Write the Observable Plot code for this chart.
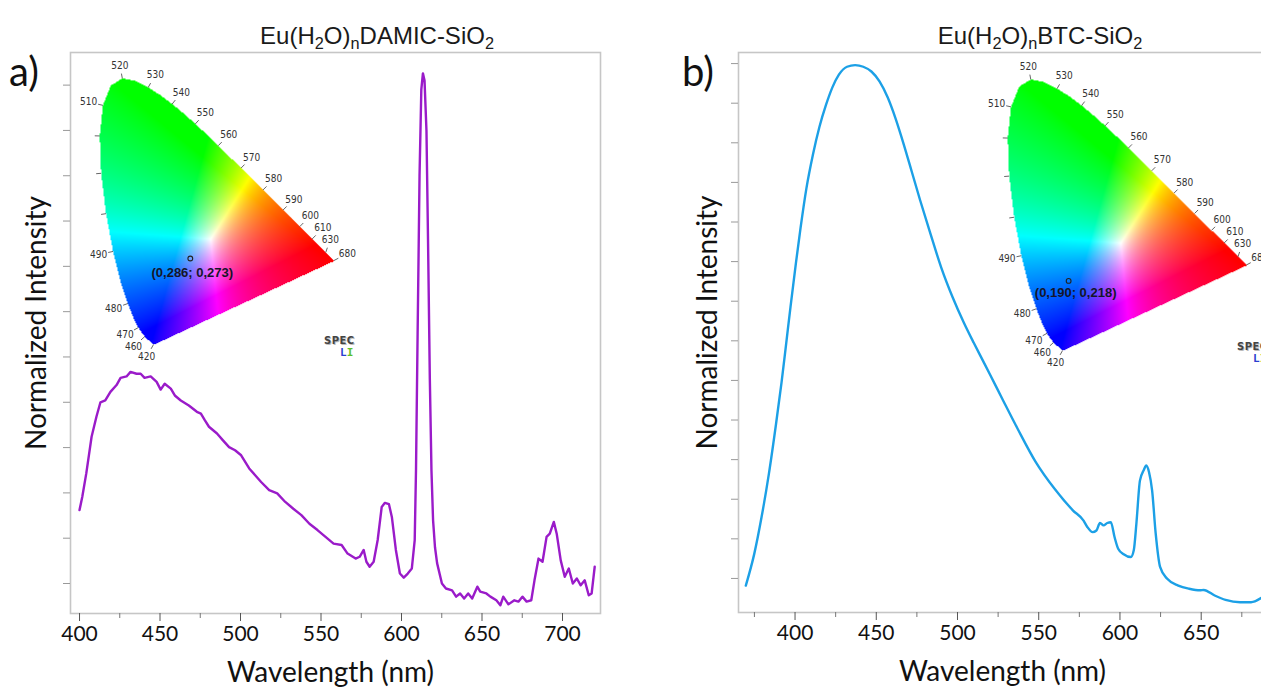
<!DOCTYPE html>
<html>
<head>
<meta charset="utf-8">
<script src="https://cdn.jsdelivr.net/npm/d3@7"></script>
<script src="https://cdn.jsdelivr.net/npm/@observablehq/plot@0.6"></script>
<style>
html, body { margin: 0; padding: 0; background: #fff; overflow: hidden; }
#root { position: relative; width: 1261px; height: 689px; overflow: hidden; background: #fff; }
.title { font-family: "Liberation Sans", Arial, sans-serif; font-size: 24px; line-height: 1; color: #1a1a1a; white-space: nowrap; transform: translateX(-50%); }
.title sub { font-size: 0.68em; vertical-align: -0.32em; line-height: 0; }
.plabel { font-family: Lato, "Open Sans", sans-serif; font-size: 40px; line-height: 1; color: #111; }
.spec { font-family: "DejaVu Sans", sans-serif; font-weight: bold; font-size: 10px; line-height: 1; color: #444; letter-spacing: 0.5px; text-shadow: 1px 1px 0 #bbb; }
.spec2 { font-family: "DejaVu Sans Mono", monospace; font-weight: bold; font-size: 11px; line-height: 1; }
</style>
</head>
<body>
<div id="root"></div>
<script>
// ---------------- data ----------------
// Panel a: Eu(H2O)nDAMIC-SiO2 emission spectrum (intensity in y-tick units)
const wlA = [400,401.7,404.2,407.5,410.5,413,416,419.2,423,425.5,429.2,431.7,435.4,438,440.4,444.2,447.9,450.4,452.9,456.7,459.2,462.9,467.9,472.9,475.4,477.9,480.4,485.4,489.1,492.9,496.6,500.4,505.4,509.1,512.8,517.8,522.8,527.8,532.8,537.8,542.8,547.8,552.8,557.8,562.8,566.5,571.5,574,576.5,578.2,580.2,582.7,585.2,587.7,589.7,592.2,594,596.5,599,601.4,603.9,606.4,608.2,609.0,610.0,611.2,612.3,613.3,614.3,615.5,616.5,617.6,618.6,619.6,620.8,622.1,625.1,627.6,631.4,633.9,636.4,638.9,641.4,643.9,647.1,648.9,652.7,655.2,658.9,661.4,663.2,666.4,670.1,672.6,675.1,677.7,680.6,682.6,685.1,687.6,690.1,692.1,694.6,696.4,698.9,701.4,703.9,706.4,708.9,711.3,713.8,716.3,718.1,720];
const intA = [1.62,1.91,2.43,3.24,3.68,4.0,4.04,4.23,4.38,4.54,4.57,4.67,4.63,4.63,4.54,4.57,4.45,4.28,4.41,4.3,4.15,4.04,3.93,3.79,3.75,3.6,3.46,3.31,3.16,3.01,2.94,2.83,2.54,2.39,2.24,2.06,1.99,1.8,1.65,1.51,1.32,1.18,1.03,0.88,0.85,0.66,0.55,0.59,0.74,0.48,0.37,0.48,0.96,1.69,1.78,1.75,1.47,0.74,0.22,0.13,0.22,0.33,0.96,2.5,5.5,9.0,10.9,11.26,11.1,10.0,7.5,4.5,2.5,1.4,0.8,0.45,0.0,-0.11,-0.15,-0.29,-0.22,-0.33,-0.22,-0.33,-0.07,-0.18,-0.22,-0.29,-0.37,-0.48,-0.29,-0.46,-0.37,-0.4,-0.29,-0.4,-0.37,0.07,0.55,0.48,1.03,1.1,1.36,1.1,0.51,0.15,0.33,0.0,0.11,-0.04,0.07,-0.26,-0.22,0.37];

// Panel b: Eu(H2O)nBTC-SiO2 emission spectrum (intensity in y-tick units)
const wlB = [369.7,374.9,379.4,383.9,388.3,391.7,394.6,397.2,400.5,403.4,407,411,415,419,423,427,432,437,442,447,452,457,462,467,472,477,483,490,497,504,510,515,520,528,537,548,560,571,577.6,579.9,583.2,585.5,587.7,589.9,592.2,594.4,596.7,598.9,602.3,606.7,608.5,610.1,612.3,614.6,616.2,617.9,619.8,622,624.7,629.1,635.9,642.6,649.3,651.5,658.3,665,673.9,680.7,687.1];
const intB = [-0.18,0.62,1.55,2.64,3.9,4.95,5.95,6.85,7.95,8.85,9.85,10.7,11.4,11.95,12.4,12.72,12.92,12.96,12.92,12.8,12.55,12.15,11.6,10.95,10.25,9.55,8.75,7.85,7.1,6.45,5.95,5.55,5.15,4.5,3.78,2.95,2.25,1.72,1.46,1.3,1.17,1.21,1.4,1.34,1.4,1.42,1.04,0.75,0.61,0.54,0.71,1.38,2.47,2.73,2.85,2.68,2.22,1.13,0.29,-0.01,-0.18,-0.26,-0.3,-0.29,-0.43,-0.54,-0.6,-0.6,-0.49];

// Axis ticks
const xMajorA = [400,450,500,550,600,650,700];
const xMinorA = [425,475,525,575,625,675];
const yTicksA = [0,1,2,3,4,5,6,7,8,9,10,11];
const xMajorB = [400,450,500,550,600,650];
const xMinorB = [375,425,475,525,575,625,675];
const yTicksB = [0,1,2,3,4,5,6,7,8,9,10,11,12,13];

// CIE 1931 spectral locus (x, y) 380–700 nm
const locusWl = [380,385,390,395,400,405,410,415,420,425,430,435,440,445,450,455,460,465,470,475,480,485,490,495,500,505,510,515,520,525,530,535,540,545,550,555,560,565,570,575,580,585,590,595,600,605,610,615,620,625,630,635,640,645,650,655,660,665,670,675,680,685,690,695,700];
const locusX = [0.1741,0.1740,0.1738,0.1736,0.1733,0.1730,0.1726,0.1721,0.1714,0.1703,0.1689,0.1669,0.1644,0.1611,0.1566,0.1510,0.1440,0.1355,0.1241,0.1096,0.0913,0.0687,0.0454,0.0235,0.0082,0.0039,0.0139,0.0389,0.0743,0.1142,0.1547,0.1929,0.2296,0.2658,0.3016,0.3373,0.3731,0.4087,0.4441,0.4788,0.5125,0.5448,0.5752,0.6029,0.6270,0.6482,0.6658,0.6801,0.6915,0.7006,0.7079,0.7140,0.7190,0.7230,0.7260,0.7283,0.7300,0.7311,0.7320,0.7327,0.7334,0.7340,0.7344,0.7346,0.7347];
const locusY = [0.0050,0.0050,0.0049,0.0049,0.0048,0.0048,0.0048,0.0048,0.0051,0.0058,0.0069,0.0086,0.0109,0.0138,0.0177,0.0227,0.0297,0.0399,0.0578,0.0868,0.1327,0.2007,0.2950,0.4127,0.5384,0.6548,0.7502,0.8120,0.8338,0.8262,0.8059,0.7816,0.7543,0.7243,0.6923,0.6589,0.6245,0.5896,0.5547,0.5202,0.4866,0.4544,0.4242,0.3965,0.3725,0.3514,0.3340,0.3197,0.3083,0.2993,0.2920,0.2859,0.2809,0.2770,0.2740,0.2717,0.2700,0.2689,0.2680,0.2673,0.2666,0.2660,0.2656,0.2654,0.2653];
const cieLabelWl = [420,460,470,480,490,510,520,530,540,550,560,570,580,590,600,610,630,680];
const cieTickOnlyWl = [495,500,505];

// Chromaticity points of the two samples
const ciePtX = [0.286, 0.190];
const ciePtY = [0.273, 0.218];
const ciePtLabel = ["(0,286; 0,273)", "(0,190; 0,218)"];

// ---------------- helpers ----------------
const root = document.getElementById("root");
function place(el, left, top) {
  el.style.position = "absolute";
  el.style.left = left + "px";
  el.style.top = top + "px";
  root.appendChild(el);
  return el;
}
function addHTML(html, cls, left, top) {
  const d = document.createElement("div");
  d.className = cls;
  d.innerHTML = html;
  return place(d, left, top);
}

const polygon = locusX.map((x, i) => [x, locusY[i]]);
// white of the rendering moved toward (0.35, 0.333) as in the reference diagram
const wX = 0.9505 / (0.35 / 0.333), wZ = 1.089 / ((1 - 0.35 - 0.333) / 0.333);
function cieColor(x, y) {
  if (y <= 0.001 || !d3.polygonContains(polygon, [x, y])) return null;
  const X = wX * x / y, Y = 1, Z = wZ * (1 - x - y) / y;
  let r = 3.2406 * X - 1.5372 * Y - 0.4986 * Z;
  let g = -0.9689 * X + 1.8758 * Y + 0.0415 * Z;
  let b = 0.0557 * X - 0.2040 * Y + 1.0570 * Z;
  r = Math.max(0, r); g = Math.max(0, g); b = Math.max(0, b);
  const m = Math.max(r, g, b);
  const f = v => Math.round(255 * Math.pow(v / m, 0.8));
  return `rgb(${f(r)},${f(g)},${f(b)})`;
}

function normalAt(w) {
  const i = locusWl.indexOf(w);
  const i0 = Math.max(0, i - 1), i1 = Math.min(locusWl.length - 1, i + 1);
  const tx = locusX[i1] - locusX[i0], ty = locusY[i1] - locusY[i0];
  const L = Math.hypot(tx, ty);
  let nx = -ty / L, ny = tx / L;
  if (w === 630) { const a = 0.45; [nx, ny] = [nx * Math.cos(a) - ny * Math.sin(a), nx * Math.sin(a) + ny * Math.cos(a)]; }
  if (w === 680) { const a = -0.3; [nx, ny] = [nx * Math.cos(a) - ny * Math.sin(a), nx * Math.sin(a) + ny * Math.cos(a)]; }
  return [nx, ny];
}

const LAB_FONT = "Lato, 'Open Sans', sans-serif";

function spectrumPlot(wl, vals, opt) {
  const data = wl.map((w, i) => ({w, v: vals[i]}));
  return Plot.plot({
    width: opt.width, height: 689,
    marginLeft: opt.ml, marginRight: 30, marginTop: 52, marginBottom: opt.mb,
    style: {background: "transparent", maxWidth: "none", overflow: "visible", fontFamily: LAB_FONT},
    x: {domain: opt.xd},
    y: {domain: opt.yd},
    marks: [
      Plot.frame({stroke: "#c6c6c6", strokeWidth: 1.6}),
      Plot.axisX({ticks: opt.xMinor, tickSize: 5, tickFormat: () => "", label: null, stroke: "#777"}),
      Plot.axisX({ticks: opt.xMajor, tickSize: 8, tickPadding: 5, label: null, stroke: "#555", fill: "#111",
                  fontSize: 21, fontFamily: LAB_FONT}),
      Plot.axisY({ticks: opt.yTicks, tickSize: 7, tickFormat: () => "", label: null, stroke: "#999"}),
      Plot.line(data, {x: "w", y: "v", stroke: opt.color, strokeWidth: 2.4, curve: opt.curve}),
      Plot.text(["Wavelength (nm)"], {frameAnchor: "bottom", lineAnchor: "middle", textAnchor: "middle",
                 dy: 60, dx: opt.xlDx, fontSize: 28, fontFamily: LAB_FONT, fill: "#111"}),
      Plot.text(["Normalized Intensity"], {frameAnchor: "left", textAnchor: "middle", lineAnchor: "middle",
                 rotate: -90, dx: opt.ylDx, dy: -10, fontSize: 28, fontFamily: LAB_FONT, fill: "#111"})
    ]
  });
}

function ciePlot(ox, oy, s, k, lblDx, lblDy) {
  const padL = 70, padR = 45, padT = 30, padB = 28;
  const xmin = -padL / s, ymax = 0.84 + padT / s;
  const W = Math.round(padL + 0.74 * s + padR);
  const H = Math.round(padT + 0.84 * s + padB);
  const xmax = xmin + W / s, ymin = ymax - H / s;
  const ticks = cieLabelWl.concat(cieTickOnlyWl).map(w => {
    const i = locusWl.indexOf(w), [nx, ny] = normalAt(w);
    return {x1: locusX[i], y1: locusY[i], x2: locusX[i] + nx * 5 / s, y2: locusY[i] + ny * 5 / s};
  });
  const labels = cieLabelWl.map(w => {
    const i = locusWl.indexOf(w), [nx, ny] = normalAt(w);
    const d = 8 + 6 * Math.abs(nx) + 4 * Math.abs(ny);
    return {x: locusX[i] + nx * d / s, y: locusY[i] + ny * d / s, t: String(w)};
  });
  const pt = [{x: ciePtX[k], y: ciePtY[k], t: ciePtLabel[k]}];
  const svg = Plot.plot({
    width: W, height: H, margin: 0,
    style: {background: "transparent", maxWidth: "none", overflow: "visible"},
    x: {domain: [xmin, xmax], axis: null},
    y: {domain: [ymin, ymax], axis: null},
    marks: [
      Plot.raster({x1: 0, x2: 0.74, y1: 0, y2: 0.84, width: Math.round(0.74 * s), height: Math.round(0.84 * s),
                   fill: (x, y) => cieColor(x, y), imageRendering: "auto"}),
      Plot.link(ticks, {x1: "x1", y1: "y1", x2: "x2", y2: "y2", stroke: "#555", strokeWidth: 0.9}),
      Plot.text(labels, {x: "x", y: "y", text: "t", fontSize: 10, fill: "#333",
                         fontFamily: "'Liberation Sans Narrow', 'DejaVu Sans Condensed', sans-serif"}),
      Plot.dot(pt, {x: "x", y: "y", r: 2.4, stroke: "#222", strokeWidth: 1.1, fill: "none"}),
      Plot.text(pt, {x: "x", y: "y", text: "t", dx: lblDx, dy: lblDy, fontSize: 13, fontWeight: "bold",
                     fill: "#15152a", fontFamily: "'Liberation Sans', Arial, sans-serif"})
    ]
  });
  place(svg, ox + xmin * s, oy - ymax * s);
}

// ---------------- panel a ----------------
place(spectrumPlot(wlA, intA, {
  width: 630, ml: 70, mb: 76, xd: [394.4, 723.6], yd: [-0.662, 11.72], curve: "linear",
  xMajor: xMajorA, xMinor: xMinorA, yTicks: yTicksA, color: "#9a1bc9", xlDx: -5, ylDx: -33
}), 0, 0);
ciePlot(97.8, 345.6, 321, 0, 2, 14);

// ---------------- panel b ----------------
place(spectrumPlot(wlB, intB, {
  width: 666, ml: 108, mb: 77, xd: [365.2, 690.2], yd: [-0.86, 13.28], curve: "monotone-x",
  xMajor: xMajorB, xMinor: xMinorB, yTicks: yTicksB, color: "#1ca0e6", xlDx: 0, ylDx: -30
}), 630, 0);
ciePlot(1005.7, 351.6, 327, 1, 7, 12);

// ---------------- texts ----------------
addHTML("Eu(H<sub>2</sub>O)<sub>n</sub>DAMIC-SiO<sub>2</sub>", "title", 377, 24);
addHTML("Eu(H<sub>2</sub>O)<sub>n</sub>BTC-SiO<sub>2</sub>", "title", 1040, 24);
addHTML("a)", "plabel", 9, 51);
addHTML("b)", "plabel", 682, 51);
addHTML("SPEC", "spec", 324, 336);
addHTML('<span style="color:#2b3fd0">L</span><span style="color:#5cc02a">I</span>', "spec2", 340, 347);
addHTML("SPEC", "spec", 1237, 342);
addHTML('<span style="color:#2b3fd0">L</span><span style="color:#5cc02a">I</span>', "spec2", 1253, 353);
</script>
</body>
</html>
